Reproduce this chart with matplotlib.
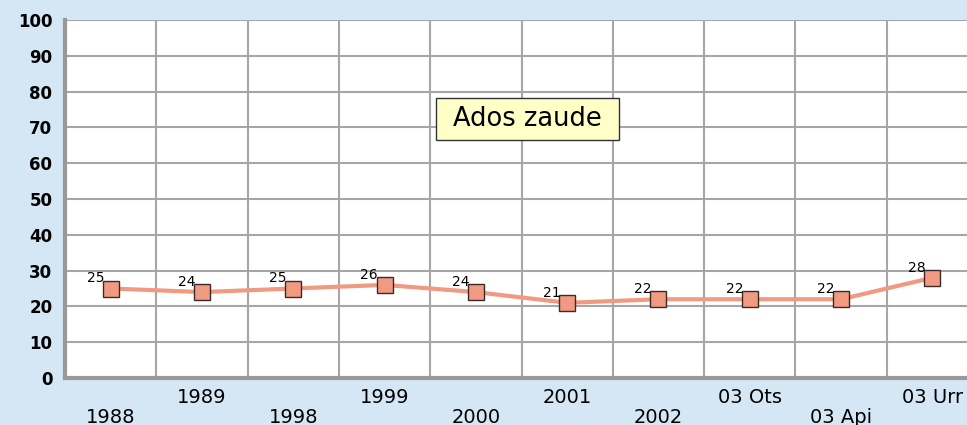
import matplotlib
matplotlib.use("Agg")
import matplotlib.pyplot as plt
from matplotlib.patches import Rectangle

categories = ["1988", "1989", "1998", "1999", "2000", "2001", "2002", "03 Ots", "03 Api", "03 Urr"]
values = [25, 24, 25, 26, 24, 21, 22, 22, 22, 28]
y_ticks = [0, 10, 20, 30, 40, 50, 60, 70, 80, 90, 100]

plt.rcParams["font.family"] = ["DejaVu Sans"]

bg = "#D5E7F5"
grid_c = "#A6A6A6"

fig = plt.figure(figsize=(9.67, 4.25), dpi=100, facecolor=bg)
ax = fig.add_axes([65 / 967, 47 / 425, 913 / 967, 358 / 425])
ax.set_facecolor("white")

x = list(range(len(categories)))
ax.plot(x, values, color="#F09A82", linewidth=3, marker="s", markersize=11,
        markerfacecolor="#F09A82", markeredgecolor="#3A2A2A", markeredgewidth=1, zorder=5,
        clip_on=False)

for xi, v in zip(x, values):
    ax.annotate(str(v), (xi, v), xytext=(-11, 4.5), textcoords="offset points",
                ha="center", va="baseline", fontsize=10, zorder=6)

ax.set_xlim(-0.5, len(categories) - 0.5)
ax.set_ylim(0, 100)
ax.set_yticks(y_ticks)
ax.set_yticklabels([str(t) for t in y_ticks], fontweight="bold", fontsize=12)

ax.set_xticks([i + 0.5 for i in x[:-1]], minor=True)
ax.set_xticks(x)
labels = ["\n" + c if i % 2 == 0 else c + "\n" for i, c in enumerate(categories)]
ax.set_xticklabels(labels, fontsize=14, linespacing=1.08)

ax.tick_params(axis="both", which="both", length=0)
ax.tick_params(axis="y", pad=9)
ax.tick_params(axis="x", pad=7)

ax.grid(False)
ax.yaxis.grid(True, color=grid_c, linewidth=1.5)
ax.xaxis.grid(True, which="minor", color=grid_c, linewidth=1.5)
ax.set_axisbelow(True)

for side in ["top", "right"]:
    ax.spines[side].set_visible(False)
for side in ["left", "bottom"]:
    ax.spines[side].set_color("#999999")
    ax.spines[side].set_linewidth(3)

# label box
ax.add_patch(Rectangle((0.4063, 0.6648), 0.2004, 0.1173, transform=ax.transAxes,
                       facecolor="#FFFFC8", edgecolor="#333333", linewidth=1, zorder=7))
ax.text(0.5066, 0.7235, "Ados zaude", transform=ax.transAxes, ha="center", va="center",
        fontsize=18.5, zorder=8)

fig.savefig("out.png", dpi=100, facecolor=bg)
